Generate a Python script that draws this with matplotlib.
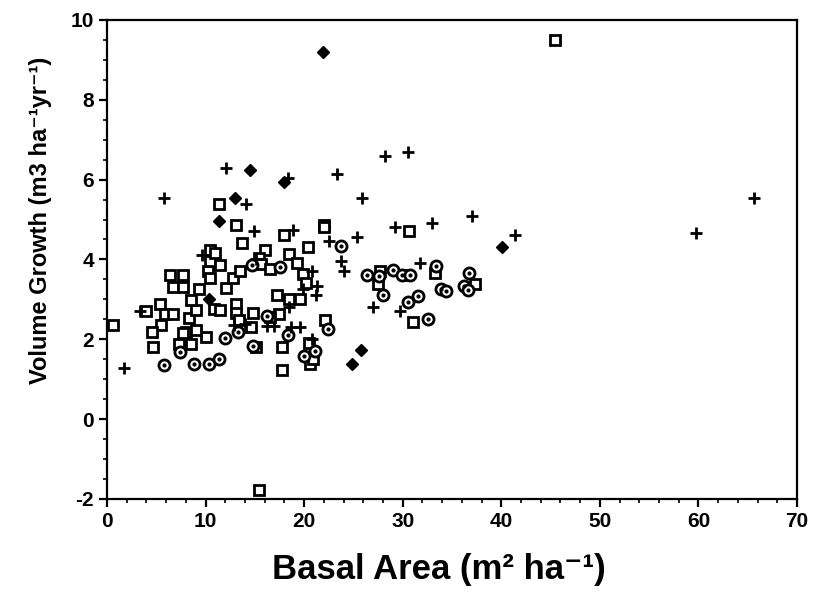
import matplotlib.pyplot as plt
from matplotlib.ticker import MultipleLocator

plt.rcParams['font.family'] = ['Liberation Sans', 'DejaVu Sans']
plt.rcParams['font.weight'] = 'bold'
plt.rcParams['axes.unicode_minus'] = False

# 사각형 (open square)
sq_x = [0.6, 4.0, 11.4, 13.1, 13.7, 18.0, 22.0, 22.0, 30.6, 20.4, 16.0, 15.4, 15.6,
        16.5, 18.5, 19.3, 19.9, 20.2, 17.2, 18.5, 19.6, 14.8, 17.4, 20.6, 17.8, 17.8,
        15.1, 22.1, 31.0, 33.3, 37.3, 27.7, 27.5, 6.4, 7.7, 6.7, 7.7, 5.4, 5.9, 6.7,
        5.5, 4.6, 4.7, 7.3, 8.0, 8.3, 9.0, 8.5, 9.3, 10.2, 10.4, 10.4, 11.0, 11.5,
        10.4, 10.9, 11.5, 10.0, 9.0, 8.5, 12.1, 12.8, 13.5, 13.1, 13.1, 13.4, 14.6,
        20.5, 45.5, 15.4, 16.5, 20.9, 7.7, 30.3]
sq_y = [2.35, 2.7, 5.4, 4.85, 4.4, 4.6, 4.85, 4.8, 4.7, 4.3, 4.23, 4.04, 3.89,
        3.75, 4.13, 3.9, 3.64, 3.41, 3.12, 3.0, 3.0, 2.66, 2.62, 1.38, 1.22, 1.8,
        1.8, 2.48, 2.44, 3.67, 3.38, 3.7, 3.38, 3.6, 3.6, 3.3, 3.3, 2.88, 2.64, 2.64,
        2.35, 2.18, 1.8, 1.88, 2.18, 2.54, 2.73, 2.98, 3.27, 3.7, 3.97, 4.23, 4.15, 3.86,
        3.53, 2.75, 2.73, 2.06, 2.22, 1.87, 3.28, 3.53, 3.72, 2.88, 2.66, 2.49, 2.3,
        1.91, 9.5, -1.78, 2.55, 1.5, 2.15, 3.62]

# 점 있는 원 (dotted circle)
ci_x = [5.8, 8.8, 10.3, 11.4, 7.4, 12.0, 13.3, 14.8, 16.2, 14.7, 17.6, 18.4, 20.0,
        21.1, 22.4, 23.7, 26.4, 27.6, 28.0, 29.0, 29.9, 30.7, 30.5, 31.6, 32.6, 33.4,
        33.9, 34.4, 36.2, 36.6, 36.7]
ci_y = [1.36, 1.38, 1.38, 1.5, 1.67, 2.04, 2.18, 1.84, 2.59, 3.86, 3.82, 2.1, 1.59,
        1.7, 2.25, 4.34, 3.6, 3.58, 3.1, 3.73, 3.6, 3.6, 2.93, 3.09, 2.51, 3.83,
        3.27, 3.2, 3.34, 3.24, 3.65]

# 십자 (plus)
pl_x = [1.7, 5.8, 12.1, 14.1, 14.9, 18.4, 18.9, 23.3, 25.9, 25.4, 28.2, 30.5, 29.2,
        33.0, 37.0, 41.4, 59.8, 65.6, 22.5, 23.7, 24.0, 31.8, 27.0, 29.7, 3.3, 9.6,
        19.6, 20.8, 21.3, 21.2, 19.9, 20.8, 18.5, 16.2, 16.9, 12.9, 14.0, 15.1, 18.7]
pl_y = [1.27, 5.55, 6.3, 5.4, 4.7, 6.05, 4.73, 6.15, 5.55, 4.55, 6.6, 6.7, 4.8,
        4.9, 5.1, 4.6, 4.65, 5.55, 4.45, 3.95, 3.7, 3.9, 2.8, 2.7, 2.7, 4.1,
        2.3, 3.72, 3.34, 3.12, 3.27, 2.0, 2.8, 2.33, 2.33, 2.35, 2.37, 4.0, 2.3]

# 채워진 마름모 (filled diamond)
di_x = [21.9, 14.5, 18.0, 13.0, 11.4, 40.1, 25.8, 24.9, 10.3]
di_y = [9.2, 6.25, 5.95, 5.55, 4.95, 4.3, 1.72, 1.38, 3.0]

fig = plt.figure(figsize=(8.13, 6.04), dpi=100)
ax = fig.add_axes([0.1316, 0.174, 0.8487, 0.793])

ax.plot(sq_x, sq_y, 's', ms=7, mfc='white', mec='black', mew=2.0, ls='none')
ax.plot(ci_x, ci_y, 'o', ms=8, mfc='white', mec='black', mew=2.0, ls='none')
ax.plot(ci_x, ci_y, 'o', ms=2, mfc='black', mec='black', ls='none')
ax.plot(pl_x, pl_y, '+', ms=9, mec='black', mew=2.0, ls='none')
ax.plot(di_x, di_y, 'D', ms=6, mfc='black', mec='black', ls='none')

ax.set_xlim(0, 70)
ax.set_ylim(-2, 10)
ax.xaxis.set_major_locator(MultipleLocator(10))
ax.xaxis.set_minor_locator(MultipleLocator(2))
ax.yaxis.set_major_locator(MultipleLocator(2))
ax.yaxis.set_minor_locator(MultipleLocator(0.5))
ax.tick_params(which='major', length=6, width=1.6, labelsize=15, direction='out')
ax.tick_params(which='minor', length=3, width=1.2, direction='out')
for s in ax.spines.values():
    s.set_linewidth(1.6)

# 축 제목은 그림 좌표로 직접 배치
fig.text(439 / 813, 1 - 570 / 604, "Basal Area (m² ha⁻¹)", fontsize=25,
         fontweight='bold', ha='center', va='center')
fig.text(40 / 813, 1 - 220 / 604, "Volume Growth (m3 ha⁻¹yr⁻¹)", fontsize=17,
         fontweight='bold', ha='center', va='center', rotation=90)

plt.savefig("out.png", dpi=100)
